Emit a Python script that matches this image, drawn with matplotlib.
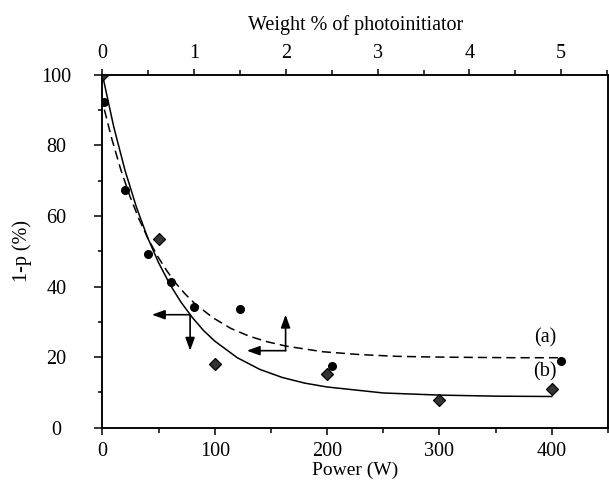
import matplotlib
matplotlib.use('Agg')
import matplotlib.pyplot as plt
from matplotlib.ticker import MultipleLocator

plt.rcParams['font.family'] = 'Liberation Serif'
plt.rcParams['font.size'] = 14.5

# ── data ────────────────────────────────────────────────────────────────────
# (b) measured vs. lamp power (bottom axis)
power_pts = [0, 50, 100, 200, 300, 400]
power_vals = [100, 53.6, 18.0, 15.3, 7.7, 10.8]

# (a) measured vs. photoinitiator weight % (top axis)
weight_pts = [0.02, 0.25, 0.5, 0.75, 1.0, 1.5, 2.5, 5.0]
weight_vals = [92.2, 67.3, 49.3, 41.2, 34.2, 33.5, 17.5, 19.0]

# fitted curve (b), solid, vs power
fit_b_x = [0, 10, 20, 30, 40, 50, 60, 70, 80, 90, 100, 120, 140, 160, 180,
           200, 250, 300, 350, 400]
fit_b_y = [100, 85.3, 73.0, 62.7, 54.0, 46.7, 40.6, 35.5, 31.2, 27.5, 24.5,
           19.8, 16.5, 14.2, 12.6, 11.5, 9.8, 9.2, 8.9, 8.8]

# fitted curve (a), dashed, vs weight %
fit_a_x = [0.02, 0.1, 0.2, 0.3, 0.4, 0.5, 0.6, 0.7, 0.8, 0.9, 1.0, 1.2, 1.4,
           1.6, 1.8, 2.0, 2.4, 2.8, 3.2, 3.6, 4.0, 4.5, 5.02]
fit_a_y = [90.2, 82.0, 73.1, 65.5, 59.0, 53.4, 48.6, 44.5, 40.9, 37.9, 35.3,
           31.2, 28.1, 25.9, 24.3, 23.1, 21.5, 20.7, 20.2, 20.0, 19.9, 19.8,
           19.8]

# arrows: (corner, tip) in power / % coordinates
arrows_b = [((78, 32), (44, 32)), ((78, 32), (78, 21.8))]
arrows_a = [((163, 21.8), (163, 32)), ((163, 21.8), (128.5, 21.8))]

fig = plt.figure(figsize=(6.09, 4.82), dpi=100)
ax = fig.add_axes([0.1683, 0.113, 0.830, 0.7315])

ax.plot(fit_b_x, fit_b_y, color='black', lw=1.1, zorder=2)
ax.plot(power_pts, power_vals, ls='none', marker='D', ms=6,
        mfc='#333333', mec='black', mew=0.9, zorder=3)

ax.set_xlim(0, 450)
ax.set_ylim(0, 100)
ax.xaxis.set_major_locator(MultipleLocator(100))
ax.xaxis.set_minor_locator(MultipleLocator(50))
ax.yaxis.set_major_locator(MultipleLocator(20))
ax.yaxis.set_minor_locator(MultipleLocator(10))
ax.tick_params(axis='x', which='major', direction='out', length=5, width=1.1, pad=5.5)
ax.tick_params(axis='x', which='minor', direction='out', length=3.3, width=1.1)
ax.tick_params(axis='y', which='major', direction='out', length=6, width=1.1, pad=27)
ax.tick_params(axis='y', which='minor', direction='out', length=3.2, width=1.1)
for lab in ax.get_yticklabels():
    lab.set_horizontalalignment('center')
ax.set_xlabel('Power (W)', fontsize=14, labelpad=0.5)
ax.set_ylabel('1-p (%)', labelpad=7)
for s in ax.spines.values():
    s.set_linewidth(1.1)

ax2 = ax.twiny()
ax2.plot(fit_a_x, fit_a_y, color='black', lw=1.1, dashes=(6, 3.3), zorder=2)
ax2.plot(weight_pts, weight_vals, ls='none', marker='o', ms=5.5,
         mfc='black', mec='black', zorder=3)
ax2.set_xlim(0, 5.51)
ax2.xaxis.set_major_locator(MultipleLocator(1))
ax2.xaxis.set_minor_locator(MultipleLocator(0.5))
ax2.tick_params(axis='x', which='major', direction='out', length=4.3, width=1.1, pad=4.5)
ax2.tick_params(axis='x', which='minor', direction='out', length=3.5, width=1.1)
ax2.set_xlabel('Weight % of photoinitiator', labelpad=10)
for s in ax2.spines.values():
    s.set_linewidth(1.1)

arrow_kw = dict(arrowstyle='-|>,head_length=0.55,head_width=0.2',
                color='black', lw=1.2, mutation_scale=14,
                shrinkA=0, shrinkB=0)
for start, end in arrows_b + arrows_a:
    ax.annotate('', xy=end, xytext=start, arrowprops=arrow_kw)

ax.text(394, 25.5, '(a)', ha='center', va='center')
ax.text(394, 15.7, '(b)', ha='center', va='center')

fig.savefig('out.png', dpi=100)
